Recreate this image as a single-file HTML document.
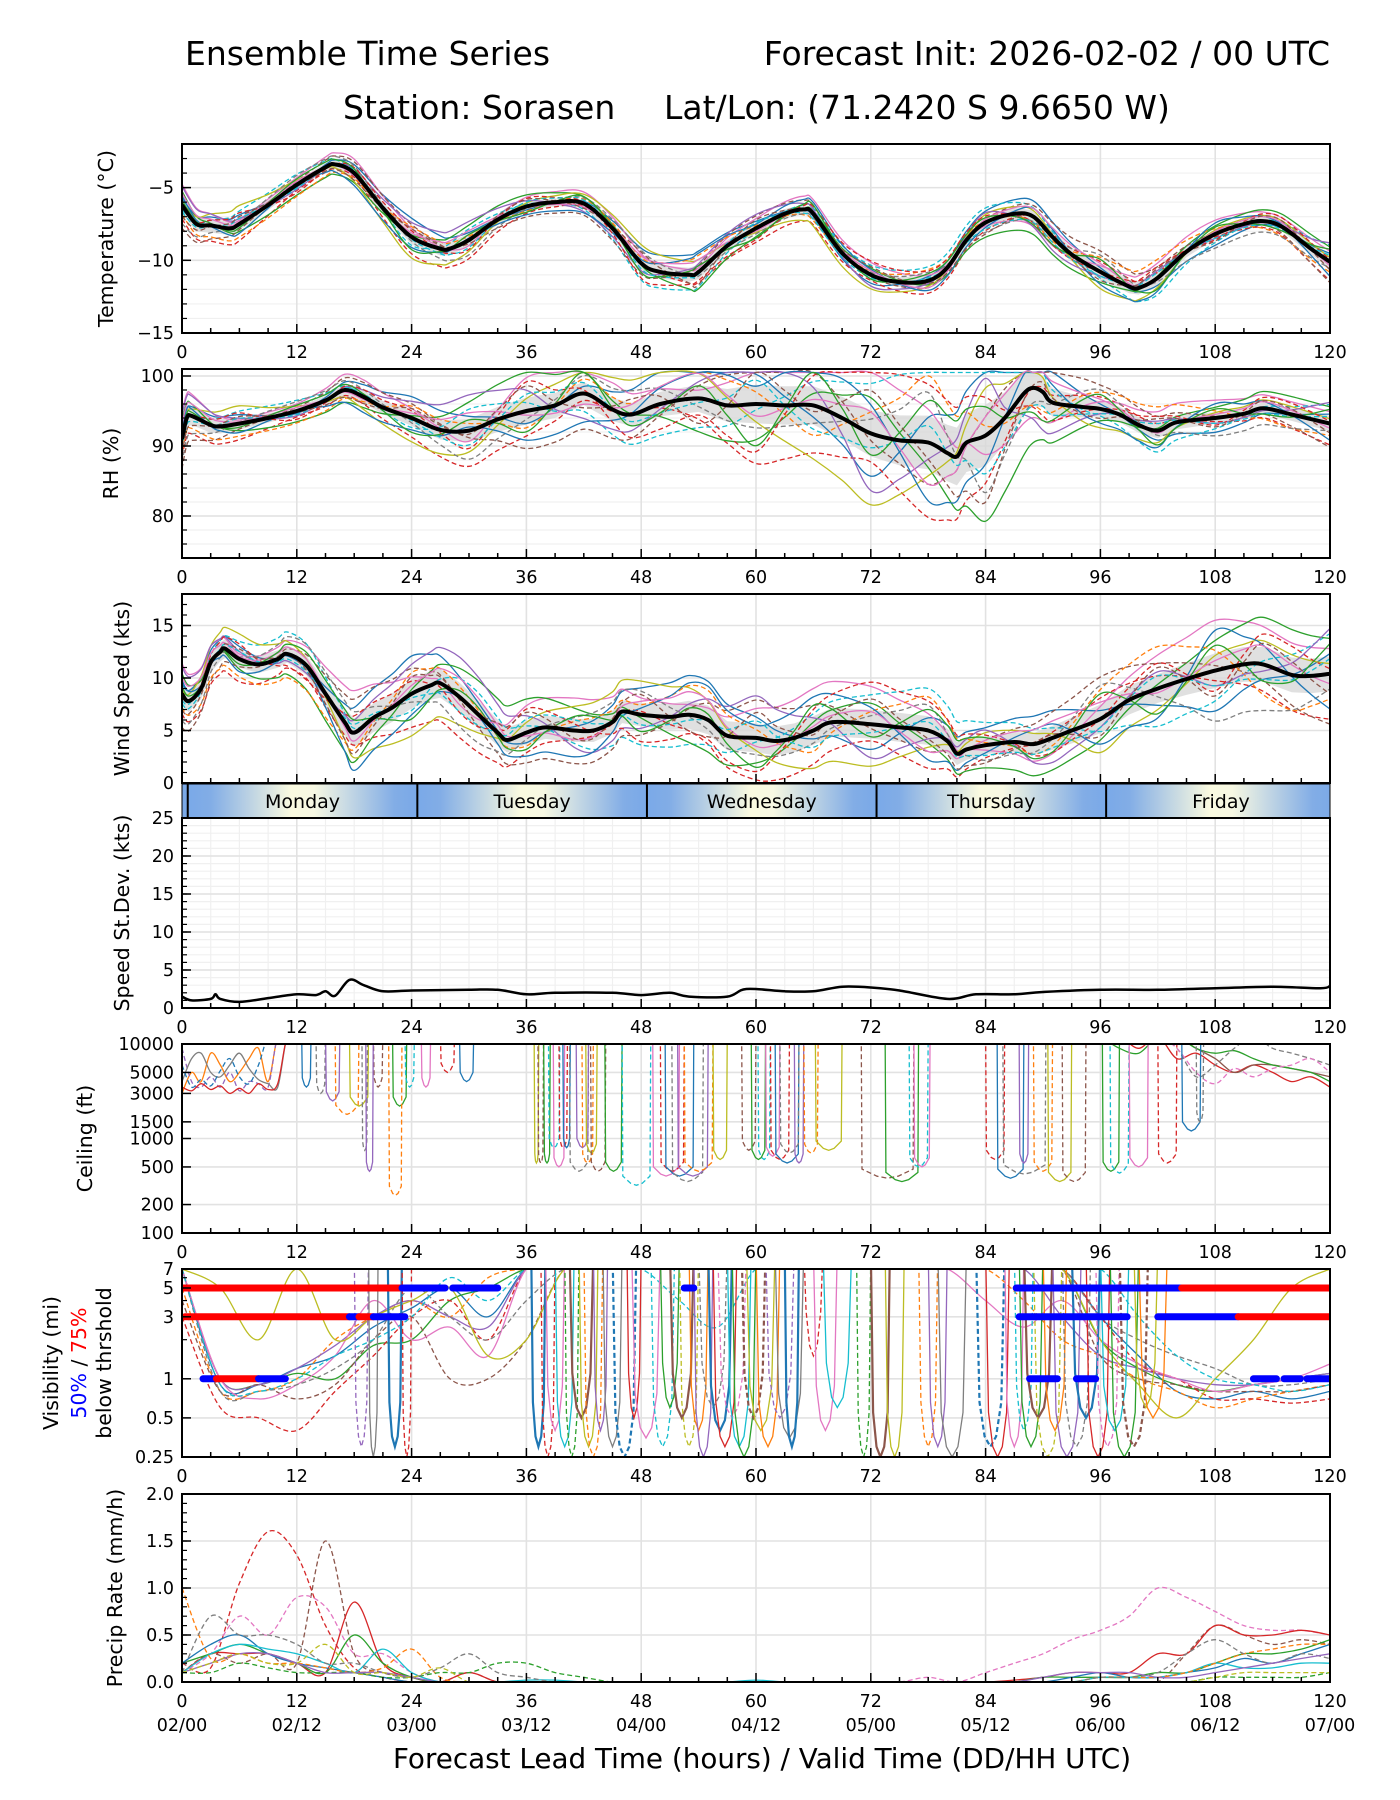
<!DOCTYPE html>
<html><head><meta charset="utf-8"><style>
html,body{margin:0;padding:0;background:#fff;}
svg{display:block;font-family:"DejaVu Sans","Liberation Sans",sans-serif;}
</style></head><body>
<svg id="chart" xmlns="http://www.w3.org/2000/svg" width="1400" height="1800" viewBox="0 0 1400 1800">
<text x="185" y="65" font-size="33">Ensemble Time Series</text>
<text x="1330" y="65" font-size="33" text-anchor="end">Forecast Init: 2026-02-02 / 00 UTC</text>
<text x="343" y="119" font-size="33">Station: Sorasen</text>
<text x="664" y="119" font-size="33">Lat/Lon: (71.2420 S 9.6650 W)</text>
<text x="762" y="1768" font-size="27.8" text-anchor="middle">Forecast Lead Time (hours) / Valid Time (DD/HH UTC)</text>
<g id="root"></g>
</svg>
<script>
// ---------- data ----------
const tempHours=[0,1.5,3,5,6,9,12,15,16,18,21,24,27,28,30,33,36,39,42,45,48,50,53,54,57,60,63,65,66,69,72,75,78,80,82,84,87,89,91,93,96,99,100,102,105,108,111,113,115,118,120];
const tempMean=[-6.2,-7.5,-7.6,-7.8,-7.5,-6.2,-4.8,-3.6,-3.4,-4.0,-6.4,-8.4,-9.2,-9.2,-8.6,-7.2,-6.3,-6.0,-6.1,-7.8,-10.2,-10.8,-11.0,-10.8,-9.0,-7.8,-6.8,-6.5,-6.8,-9.5,-11.0,-11.5,-11.4,-10.5,-8.6,-7.4,-6.8,-7.0,-8.4,-9.6,-10.8,-11.8,-11.9,-11.2,-9.4,-8.2,-7.5,-7.3,-7.7,-9.2,-10.1];
const tempSpread=[1.0,0.8,0.5,0.6,0.9,0.8,0.5,0.5,0.8,0.9,0.6,0.6,0.6,0.6,0.7,0.8,0.9,0.8,0.6,0.5,0.9];
const rhHours=[0,0.5,1,3,4,6,9,12,15,17,19,21,24,27,30,33,36,39,42,45,47,50,54,57,60,63,66,69,72,75,78,80,81,82,84,86,88,89,90,91,94,96,98,100,102,104,108,111,113,116,120];
const rhMean=[91,94,94.3,93,92.8,93.2,94,95,96.5,98,97,95.5,94,92.3,92.2,93.8,95,95.8,97.5,95.2,94.5,96,96.8,95.8,96,95.8,95.8,94,91.8,90.8,90.5,89,88.5,90.5,91.5,94,97.5,98.3,97.7,96.2,95.6,95.3,94.5,93,92.2,93.4,94,94.6,95.4,94.5,93.2];
const rhSpread=[2.5,1.5,1,1.5,2,3,3.5,3,3,3.5,5,5,6,7,8,4,2,2,1.5,1.5,2];
const windHours=[0,0.7,2,3,4,4.5,6,8,10,11,13,15,17,18,20,22,24,26,27,29,31,33,34,36,38,41,43,45,46,48,51,53,55,57,60,62,64,66,68,72,75,78,80,81,82,84,87,89,91,93,96,99,102,105,108,111,113,116,118,120];
const windMean=[8.5,7.8,9,11.5,12.5,12.8,11.8,11.3,11.8,12.3,11.2,8.5,5.8,4.8,6.2,7.2,8.5,9.3,9.5,8.2,6.5,4.8,4.1,4.8,5.3,5.0,5.0,5.8,6.8,6.5,6.3,6.5,6.0,4.5,4.3,4.0,4.3,5.0,5.8,5.6,5.3,5.0,4.0,2.8,3.2,3.6,3.9,3.7,4.3,5.0,6.1,7.9,9.0,9.9,10.7,11.3,11.3,10.3,10.2,10.4];
const windSpread=[2,1.5,1.5,2.5,2.5,2.5,2,2,2,2.5,2.5,2.5,2.5,2.5,1.5,2.0,2.5,2.5,3,3,3];
const sdHours=[0,1,3,3.5,4,6,9,12,14,15,16,17.5,19,21,24,30,33,36,39,45,48,51,53,57,59,63,66,69,72,75,80,83,87,90,96,102,108,114,119,120];
const sdValues=[1.5,1.0,1.2,1.8,1.2,0.8,1.3,1.8,1.7,2.2,1.6,3.7,3.0,2.2,2.3,2.4,2.4,1.8,2.0,2.0,1.7,2.0,1.5,1.5,2.5,2.2,2.2,2.8,2.7,2.3,1.2,1.8,1.8,2.1,2.4,2.4,2.6,2.8,2.6,2.9];
const off0=[0.3,0.5,-0.2,0.6,0.9,0.4,-0.3,0.2,0.8,1.0,0.5,-0.2,-0.6,0.3,0.7,0.9,0.2,-0.4,-0.8,-0.2,0.4];
const off1=[-0.6,-0.9,-0.5,-0.3,-0.8,-1.0,-0.6,-0.2,0.1,-0.5,-1.0,-0.8,-0.4,-0.9,-0.5,0.1,0.5,0.3,-0.2,-0.6,-0.9];
const off2=[0.9,0.2,0.6,1.0,0.4,-0.3,0.8,1.0,0.5,0.2,0.7,1.0,0.9,0.4,-0.2,-0.6,0.3,0.8,1.0,0.7,0.5];
const off3=[-0.2,0.7,0.9,0.1,-0.4,0.6,0.2,-0.5,-0.9,-0.7,-0.1,0.4,0.7,1.0,0.9,0.4,-0.3,-0.9,-0.6,0.2,0.8];
const off4=[0.6,-0.4,-0.9,-0.7,0.1,0.8,1.0,0.6,-0.1,-0.8,-0.6,0.2,0.5,-0.3,-0.9,-1.0,-0.5,0.1,0.6,1.0,0.7];
const off5=[-1.0,-0.3,0.3,0.8,0.6,-0.2,-0.9,-1.0,-0.6,0.3,0.9,0.6,-0.1,-0.5,0.2,0.7,1.0,0.6,0.1,-0.4,-1.0];
const off6=[0.1,1.0,0.4,-0.6,-1.0,-0.6,0.3,0.8,1.0,0.6,-0.3,-0.9,-1.0,-0.4,0.5,0.3,-0.8,-0.5,0.3,0.5,0.2];
const off7=[-0.4,-0.7,-1.0,-0.4,0.5,0.2,-0.4,0.4,0.3,0.8,0.2,-0.5,0.3,0.8,0.1,-0.4,0.7,1.0,0.4,-0.8,-0.5];
const off8=[0.8,0.3,-0.4,0.3,0.7,1.0,0.5,-0.7,-0.4,0.4,1.0,0.3,-0.8,-0.2,0.6,-0.8,-0.2,0.4,-0.3,-0.1,0.9];
const off9=[-0.8,0.1,0.8,0.5,-0.2,-0.8,-0.2,0.5,0.7,-0.2,-0.4,-0.3,0.2,0.6,-0.6,-0.2,0.8,-0.2,-1.0,-0.9,-0.3];
const off10=[0.4,-0.5,0.1,-0.9,-0.5,0.1,-0.7,-0.8,0.2,0.9,0.3,0.8,0.4,-0.7,-0.3,0.6,-0.6,-0.7,0.8,0.3,-0.7];
const off11=[-0.1,0.6,-0.7,0.4,0.3,-0.5,0.7,0.1,-0.8,-0.4,-0.8,0.5,1.0,0.7,0.4,-0.5,0.0,0.6,-0.4,0.8,0.1];
const off12=[0.5,0.1,0.3,-0.2,0.2,0.5,-0.1,-0.3,0.4,0.6,-0.2,0.1,0.3,-0.5,0.2,0.5,0.4,-0.1,0.2,0.4,-0.2];
const off13=[-0.3,0.3,-0.3,0.2,-0.1,-0.4,0.4,0.3,-0.3,-0.1,0.4,-0.4,-0.2,0.2,-0.4,-0.3,-0.2,0.3,-0.3,-0.3,0.3];
const off14=[0.2,-0.2,0.5,0.3,-0.6,0.3,-0.5,0.6,-0.5,0.3,-0.7,0.6,-0.3,0.5,0.3,-0.6,0.6,-0.6,0.5,-0.5,0.6];
const off15=[-0.5,0.4,-0.1,-0.5,0.4,-0.1,0.6,-0.4,0.6,-0.6,0.6,-0.1,0.6,-0.2,-0.7,0.2,-0.4,0.5,-0.5,0.6,-0.4];
const offsets=[off0,off1,off2,off3,off4,off5,off6,off7,off8,off9,off10,off11,off12,off13,off14,off15];
const ceilEarlyHours=[0,1,2,3,4,5,6,7,8,9,10,11,12];
const ceilEarly0=[3000,5000,4000,8000,6000,4000,5000,7000,9000,4000,12000,12000,12000];
const ceilEarly1=[9000,4000,3500,4500,3500,5000,3200,4000,3800,3500,12000,12000,12000];
const ceilEarly2=[4000,7000,8000,5000,4500,6000,8000,5500,4200,3800,3500,12000,12000];
const ceilEarly3=[6000,3500,4200,3600,5200,7000,4500,3800,6000,12000,12000,12000,12000];
const ceilEarly4=[3500,3200,3800,3300,3600,3000,3400,3000,3800,3300,3800,12000,12000];
const ceilLateHours=[96,98,100,102,104,106,108,110,112,114,116,118,120];
const ceilLate0=[12000,12000,9000,12000,7000,8000,6000,5000,6000,5000,4000,4500,3500];
const ceilLate1=[12000,12000,12000,12000,12000,9000,7000,5000,6000,6000,5500,5000,4500];
const ceilLate2=[12000,9000,8000,12000,12000,9000,8000,8500,7000,6000,5500,5000,4000];
const ceilLate3=[12000,12000,12000,12000,9000,4500,6000,9000,12000,9000,8000,7000,6000];
const ceilLate4=[12000,12000,12000,12000,9000,5000,3800,5500,4500,5500,6000,7000,5000];
const ceilDropStart=[12.5,14,15,16,17.5,20,22,23.3,25,27,29,18.8,19.2,21.6,36.8,37.2,37.8,38.3,38.8,39.4,39.8,40.5,41.2,41.8,42.2,42.7,44.2,46,49.2,50,50.5,51.2,51.8,52.5,55.5,58.5,59.5,60.2,61,61.5,62,62.5,64,65,66.2,71,73.5,76,76.5,84,85.2,85.8,87.5,89,90.5,92,96.2,97,99,102,104.5,106];
const ceilDropEnd=[13.5,15,16.5,18.5,19.5,21,23.5,24.3,26,28.5,30.5,19.4,20,23,37.3,37.8,38.5,39.5,40,40.3,40.6,42.5,42.5,43,43.4,44.3,46,49,52,52.5,53.5,54.5,55,55.5,57,60,61,61.5,62.5,63.5,64.5,64.5,65,66.5,69,76.5,77,78,78.2,86,88,90.3,88.5,91,93,94.5,98,99,101,104,106.5,106.8];
const ceilDropMin=[3500,3000,2500,1800,2200,3500,2200,3500,3500,5000,4000,750,450,250,550,550,550,800,500,800,800,450,800,550,700,450,450,320,400,450,400,350,400,450,600,750,600,600,650,600,550,700,550,700,750,380,350,500,500,600,380,420,550,450,350,350,450,430,500,550,1200,1500];
const visHours=[0,4,8,12,16,20,24,28,32,36,40,44,48,52,56,60,64,68,72,76,80,84,88,92,96,100,104,108,112,116,120];
const vis0=[7,0.9,0.9,1.2,1.5,2.5,3.5,5,3,7,7,7,7,7,7,7,7,7,7,7,7,7,7,7,3,1.5,0.8,0.7,0.8,0.7,0.8];
const vis1=[5,0.8,0.8,1.0,2,3,4,3,6,7,7,7,7,7,7,7,7,7,7,7,7,7,4,2,1.5,1,0.8,0.6,0.7,0.8,0.9];
const vis2=[7,1.0,0.9,1.1,1.0,1.8,2,4,5,7,7,7,7,7,7,7,7,7,7,7,7,7,7,7,2,1.2,0.9,0.8,0.9,1,1.1];
const vis3=[3,0.6,0.5,0.4,0.8,1.5,3,4,2,7,7,7,7,7,7,7,7,7,7,7,7,7,7,7,3,1.3,1,0.7,0.7,0.65,0.7];
const vis4=[7,1.0,0.9,1.2,1.8,3,4,3,2.5,7,7,7,7,7,7,7,7,7,7,7,7,7,7,3,1.5,1.2,1,0.9,0.9,1,1.1];
const vis5=[4,0.8,0.9,0.7,0.9,2,3,1,1,2,7,7,7,7,7,7,7,7,7,7,7,7,7,7,1.5,1,0.9,0.8,0.8,0.8,0.9];
const vis6=[7,1.0,0.7,0.9,1.5,4,2,2.5,1.5,7,7,7,7,7,7,7,7,7,7,7,7,4,2.5,4,2,1.3,1,0.8,0.9,1,1.3];
const vis7=[7,0.8,0.8,0.9,1.2,2,5,3,2,4,7,7,7,7,7,7,7,7,7,7,7,7,7,7,3,2,1.5,1.2,0.9,0.9,1.0];
const vis8=[7,5,2,7,2,3,4,5,1.5,2,7,7,7,7,7,7,7,7,7,7,7,7,7,7,2,0.9,0.5,1,2,5,7];
const vis9=[7,0.9,0.8,1.0,1.5,2,3,6,4,7,7,7,7,4,2.5,7,7,7,7,7,7,7,7,7,7,3,1.5,1,0.9,0.8,0.9];
const visMembers=[vis0,vis1,vis2,vis3,vis4,vis5,vis6,vis7,vis8,vis9];
const visDropStart=[36.5,37.5,38,39,40,40.5,41.5,42,43,44,45,46.5,47,49,50,51,52,53,53.5,54,55,55.5,56,57,57.5,58.5,59,60,61,62,63,65,66,67,70.5,72,73.5,77,78,79,83,84,86,87,87.5,88,89,90,91,92,93,94.5,95.5,96,97,98,99.5,100,18,19.5,21.5,23];
const visDropEnd=[38,39,40,41,41.5,43,43.5,44,44.5,46,47.5,48,50,51.5,52,53.5,54,55,55.5,57,57.5,58,59,59.5,60,61,62,62.5,64,65,64.5,67,68.5,70,72,74,75.5,79,80,82,86,86.5,88,89,90,91,92,92.5,94,95,96,97,98,99,100,101,102,103,19.5,20.5,23,24];
const visDropMin=[0.3,0.25,0.4,0.3,0.25,0.5,0.3,0.25,0.4,0.3,0.25,0.5,0.35,0.3,0.6,0.5,0.3,0.4,0.25,0.6,0.4,0.3,0.5,0.3,0.25,0.5,0.4,0.3,0.5,0.35,0.3,1.5,0.4,0.6,0.25,0.25,0.25,0.3,0.3,0.25,0.3,0.25,0.3,0.4,0.3,0.5,0.25,0.4,0.25,0.3,0.5,0.25,0.3,0.4,0.25,0.3,0.6,0.5,0.3,0.25,0.3,0.25];
const thrLevel=[5,5,5,5,5,5,3,3,3,3,3,3,3,1,1,1,1,1,1,1,1];
const thrStart=[0,23,28.3,52.5,87.2,104.5,0.3,17.5,18.5,20,87.5,102,110.4,2.2,3.6,8,88.6,93.5,112,115.2,117.6];
const thrEnd=[23,27.5,33,53.5,104.5,120,17.5,18.5,20,23.3,98.8,110.4,120,3.6,8,10.8,91.5,95.5,114.4,116.9,120];
const thrColor=['red','blue','blue','blue','blue','red','red','blue','red','blue','blue','blue','red','blue','red','blue','blue','blue','blue','blue','blue'];
const precipHours=[0,3,6,9,12,15,18,21,24,27,30,33,36,39,42,45,48,51,54,57,60,63,66,69,72,75,78,81,84,87,90,93,96,99,102,105,108,111,114,117,120];
const pr0=[0.2,0.15,1.05,1.6,1.35,0.6,0.15,0.05,0,0,0,0,0,0,0,0,0,0,0,0,0,0,0,0,0,0,0,0,0,0,0,0,0,0,0,0,0,0,0,0,0];
const pr1=[0.1,0.3,0.2,0.3,0.2,1.5,0.3,0.1,0.05,0,0.1,0,0,0,0,0,0,0,0,0,0,0,0,0,0,0,0,0,0,0,0,0,0,0,0,0.3,0.6,0.5,0.4,0.45,0.4];
const pr2=[0.1,0.3,0.7,0.5,0.9,0.8,0.3,0.3,0.1,0,0,0,0,0,0,0,0,0,0,0,0,0,0,0,0,0,0.05,0,0.1,0.2,0.3,0.45,0.55,0.7,1.0,0.9,0.75,0.6,0.55,0.55,0.5];
const pr3=[0.1,0.3,0.3,0.3,0.2,0.1,0.85,0.2,0.05,0,0.1,0,0,0,0,0,0,0,0,0,0,0,0,0,0,0,0,0,0,0.02,0.05,0.1,0.1,0.1,0.3,0.3,0.6,0.5,0.5,0.55,0.5];
const pr4=[0.2,0.3,0.4,0.3,0.2,0.1,0.5,0.2,0.05,0,0,0,0,0,0,0,0,0,0,0,0,0,0,0,0,0,0,0,0,0,0.05,0.05,0.05,0.05,0.1,0.1,0.2,0.3,0.3,0.35,0.45];
const pr5=[0.2,0.4,0.5,0.3,0.2,0.15,0.1,0.05,0,0,0,0,0,0,0,0,0,0,0,0,0,0,0,0,0,0,0,0,0,0,0,0.05,0.1,0.05,0.05,0.1,0.15,0.25,0.2,0.3,0.4];
const pr6=[0.1,0.3,0.4,0.35,0.3,0.2,0.1,0.35,0.1,0,0,0,0.02,0.02,0,0,0,0,0,0,0.02,0,0,0,0,0,0,0,0,0,0,0,0.05,0.05,0.05,0.1,0.2,0.15,0.15,0.2,0.2];
const pr7=[1.0,0.25,0.3,0.2,0.2,0.15,0.1,0.15,0.35,0.05,0,0,0,0,0,0,0,0,0,0,0,0,0,0,0,0,0,0,0,0,0,0,0.05,0.05,0.05,0.1,0.2,0.3,0.35,0.4,0.4];
const pr8=[0.1,0.1,0.2,0.15,0.1,0.1,0.1,0.05,0.05,0.1,0.1,0.2,0.2,0.1,0.05,0,0,0,0,0,0,0,0,0,0,0,0,0,0,0,0,0,0,0,0,0,0.05,0.05,0.05,0.05,0.1];
const pr9=[0.1,0.7,0.5,0.5,0.4,0.2,0.2,0.1,0.05,0.15,0.3,0.1,0.05,0,0,0,0,0,0,0,0,0,0,0,0,0,0,0,0,0,0,0,0.05,0.05,0.1,0.3,0.45,0.3,0.2,0.3,0.25];
const pr10=[0.1,0.2,0.3,0.3,0.2,0.1,0.1,0.1,0.05,0,0,0,0,0,0,0,0,0,0,0,0,0,0,0,0,0,0,0,0,0,0.05,0.1,0.1,0.1,0.05,0.05,0.1,0.15,0.2,0.25,0.3];
const pr11=[0.1,0.2,0.3,0.2,0.2,0.4,0.1,0.1,0.05,0.15,0,0,0,0,0,0,0,0,0,0,0,0,0,0,0,0,0,0,0,0,0,0,0,0,0,0,0.05,0.1,0.1,0.1,0.1];
const precipMembers=[pr0,pr1,pr2,pr3,pr4,pr5,pr6,pr7,pr8,pr9,pr10,pr11];
const precipColors=[3,5,6,3,2,0,9,1,2,7,4,8];
const precipDash=[1,1,1,0,0,0,0,1,1,1,0,1];
const dayNames=['Monday','Tuesday','Wednesday','Thursday','Friday'];
const xTickHours=[0,12,24,36,48,60,72,84,96,108,120];
const xDateLabels=['02/00','02/12','03/00','03/12','04/00','04/12','05/00','05/12','06/00','06/12','07/00'];

// ---------- helpers ----------
const NS='http://www.w3.org/2000/svg';
const root=document.getElementById('root');
const COLORS=['#1f77b4','#ff7f0e','#2ca02c','#d62728','#9467bd','#8c564b','#e377c2','#7f7f7f','#bcbd22','#17becf'];
const X0=182,X1=1330;
const xs=h=>X0+h*(X1-X0)/120;
function mk(tag,attrs,parent){const e=document.createElementNS(NS,tag);for(const k in attrs)e.setAttribute(k,attrs[k]);(parent||root).appendChild(e);return e;}
function ys(p,v){
  if(p.log){const lv=Math.log(Math.max(v,1e-6));return p.b-(lv-Math.log(p.min))/(Math.log(p.max)-Math.log(p.min))*(p.b-p.t);}
  return p.b-(v-p.min)/(p.max-p.min)*(p.b-p.t);
}
function interp(hs,vs,h){
  if(h<=hs[0])return vs[0]; if(h>=hs[hs.length-1])return vs[vs.length-1];
  for(let i=1;i<hs.length;i++){if(h<=hs[i]){const f=(h-hs[i-1])/(hs[i]-hs[i-1]);return vs[i-1]+f*(vs[i]-vs[i-1]);}}
}
const grid6=[];for(let i=0;i<=20;i++)grid6.push(i*6);
function smoothPath(pts){
  if(pts.length<2)return '';
  let d='M'+pts[0][0].toFixed(1)+','+pts[0][1].toFixed(1);
  for(let i=0;i<pts.length-1;i++){
    const p0=pts[Math.max(0,i-1)],p1=pts[i],p2=pts[i+1],p3=pts[Math.min(pts.length-1,i+2)];
    const c1x=p1[0]+(p2[0]-p0[0])/6,c1y=p1[1]+(p2[1]-p0[1])/6,c2x=p2[0]-(p3[0]-p1[0])/6,c2y=p2[1]-(p3[1]-p1[1])/6;
    d+='C'+c1x.toFixed(1)+','+c1y.toFixed(1)+' '+c2x.toFixed(1)+','+c2y.toFixed(1)+' '+p2[0].toFixed(1)+','+p2[1].toFixed(1);
  }
  return d;
}
function linePath(pts){return pts.map((p,i)=>(i?'L':'M')+p[0].toFixed(1)+','+p[1].toFixed(1)).join('');}
const defs=mk('defs',{});
let clipId=0;
function panelGroup(p,name){
  const id='clip'+(clipId++);
  const cp=mk('clipPath',{id:id},defs);
  mk('rect',{x:X0,y:p.t,width:X1-X0,height:p.b-p.t},cp);
  const g=mk('g',{'clip-path':'url(#'+id+')'});
  
  
  return g;
}
function drawGrid(p,g,majors,minors,xMinor){
  if(xMinor){for(let h=3;h<120;h+=3){if(h%12)mk('line',{x1:xs(h),x2:xs(h),y1:p.t,y2:p.b,stroke:'#f0f0f0','stroke-width':1.2},g);}}
  minors.forEach(v=>{mk('line',{x1:X0,x2:X1,y1:ys(p,v),y2:ys(p,v),stroke:'#f0f0f0','stroke-width':1.2},g);});
  majors.forEach(v=>{mk('line',{x1:X0,x2:X1,y1:ys(p,v),y2:ys(p,v),stroke:'#e2e2e2','stroke-width':1.6},g);});
  xTickHours.forEach(h=>{mk('line',{x1:xs(h),x2:xs(h),y1:p.t,y2:p.b,stroke:'#e2e2e2','stroke-width':1.6},g);});
}
function drawAxes(p,name,yTicks,yLabels,yMinorTicks,showX){
  const fr=mk('rect',{x:X0,y:p.t,width:X1-X0,height:p.b-p.t,fill:'none',stroke:'#000','stroke-width':2});
  
  
  for(let h=0;h<=120;h+=3){const L=(h%12===0)?9:5;mk('line',{x1:xs(h),x2:xs(h),y1:p.b,y2:p.b-L,stroke:'#000','stroke-width':1.5});}
  yTicks.forEach((v,i)=>{
    mk('line',{x1:X0,x2:X0+9,y1:ys(p,v),y2:ys(p,v),stroke:'#000','stroke-width':1.5});
    const t=mk('text',{x:X0-8,y:ys(p,v)+6,'font-size':17.5,'text-anchor':'end'});t.textContent=yLabels[i];
    
    
  });
  (yMinorTicks||[]).forEach(v=>{mk('line',{x1:X0,x2:X0+5,y1:ys(p,v),y2:ys(p,v),stroke:'#000','stroke-width':1.2});});
  if(showX!==false){
    xTickHours.forEach(h=>{const t=mk('text',{x:xs(h),y:p.b+25,'font-size':17.5,'text-anchor':'middle'});t.textContent=String(h);
      
      });
  }
}
function yTitle(lines,cx,cy,name){
  lines.forEach(l=>{
    const t=mk('text',{x:l.x,y:cy,'font-size':20.5,'text-anchor':'middle','dominant-baseline':'central',transform:'rotate(-90 '+l.x+' '+cy+')'});
    if(l.parts){l.parts.forEach(pt=>{const s=mk('tspan',{fill:pt.c},t);s.textContent=pt.s;});}else t.textContent=l.s;
    
    
  });
}
function drawEnsemble(p,g,name,hours,mean,spread,mult,clampMax){
  const up=[],dn=[];
  hours.forEach(h=>{const m=interp(hours,mean,h),s=interp(grid6,spread,h)*0.55;let a=m+s;if(clampMax!==undefined)a=Math.min(a,clampMax);up.push([xs(h),ys(p,a)]);dn.push([xs(h),ys(p,m-s)]);});
  const band=mk('path',{d:linePath(up)+dn.reverse().map(q=>'L'+q[0].toFixed(1)+','+q[1].toFixed(1)).join('')+'Z',fill:'#d8d8d8','fill-opacity':0.8},g);
  
  
  offsets.forEach((off,k)=>{
    const pts=hours.map(h=>{let v=interp(hours,mean,h)+interp(grid6,spread,h)*interp(grid6,off,h)*mult;if(clampMax!==undefined)v=Math.min(v,clampMax);return [xs(h),ys(p,v)];});
    const ln=mk('path',{d:smoothPath(pts),fill:'none',stroke:COLORS[(k*3)%10],'stroke-width':1.3,'stroke-dasharray':(k%2)?'5,3':'none'},g);
    
    
  });
  const pts=hours.map((h,i)=>[xs(h),ys(p,mean[i])]);
  const ml=mk('path',{d:smoothPath(pts),fill:'none',stroke:'#000','stroke-width':4,'stroke-linejoin':'round'},g);
  
  
}
function range(a,b,s){const r=[];for(let v=a;v<=b+1e-9;v+=s)r.push(+v.toFixed(3));return r;}

// ---------- panel 1 ----------
const P1={t:144,b:333,min:-15,max:-2};
const g1=panelGroup(P1,'temperature');
drawGrid(P1,g1,[-15,-10,-5],range(-14,-2,1),false);
drawEnsemble(P1,g1,'temperature',tempHours,tempMean,tempSpread,1.6);
drawAxes(P1,'temperature',[-15,-10,-5],['\u221215','\u221210','\u22125'],range(-14,-3,1));
yTitle([{x:106,s:'Temperature (\u00b0C)'}],0,(P1.t+P1.b)/2,'temperature-y-title');

// ---------- panel 2 ----------
const P2={t:369,b:558,min:74,max:101};
const g2=panelGroup(P2,'rh');
drawGrid(P2,g2,[80,90,100],range(76,100,2),false);
drawEnsemble(P2,g2,'rh',rhHours,rhMean,rhSpread,1.7,100.5);
drawAxes(P2,'rh',[80,90,100],['80','90','100'],range(76,98,2));
yTitle([{x:111,s:'RH (%)'}],0,(P2.t+P2.b)/2,'rh-y-title');

// ---------- panel 3 ----------
const P3={t:594,b:783,min:0,max:18};
const g3=panelGroup(P3,'wind');
drawGrid(P3,g3,[0,5,10,15],[],false);
drawEnsemble(P3,g3,'wind',windHours,windMean,windSpread,1.6);
drawAxes(P3,'wind',[0,5,10,15],['0','5','10','15'],range(1,17,1),false);
yTitle([{x:122,s:'Wind Speed (kts)'}],0,(P3.t+P3.b)/2,'wind-y-title');

// ---------- day band ----------
const bandT=784,bandB=818;
const bandClip=mk('clipPath',{id:'bandclip'},defs);
mk('rect',{x:X0,y:bandT,width:X1-X0,height:bandB-bandT},bandClip);
const grad=mk('linearGradient',{id:'daygrad',x1:0,y1:0,x2:1,y2:0},defs);
[['0','#7aa9e8'],['0.1','#82ade6'],['0.45','#fafae0'],['0.55','#f7f8e2'],['0.9','#82ade6'],['1','#7aa9e8']].forEach(s=>mk('stop',{offset:s[0],'stop-color':s[1]},grad));
const bandG=mk('g',{'clip-path':'url(#bandclip)'});


mk('rect',{x:X0,y:bandT,width:X1-X0,height:bandB-bandT,fill:'#7aa9e8'},bandG);
for(let d=-1;d<5;d++){
  const s=d*24+0.6;
  const r=mk('rect',{x:xs(s),y:bandT,width:xs(24)-xs(0),height:bandB-bandT,fill:'url(#daygrad)'},bandG);
  
  
  if(d>=0){
    mk('line',{x1:xs(s),x2:xs(s),y1:bandT,y2:bandB,stroke:'#000','stroke-width':2},bandG);
    const t=mk('text',{x:xs(s+12),y:bandT+24,'font-size':19,'text-anchor':'middle'},bandG);t.textContent=dayNames[d];
    
    
  }
}
mk('rect',{x:X0,y:bandT,width:X1-X0,height:bandB-bandT,fill:'none',stroke:'#000','stroke-width':1});

// ---------- panel 4 ----------
const P4={t:818,b:1008,min:0,max:25};
const g4=panelGroup(P4,'stdev');
drawGrid(P4,g4,[0,5,10,15,20,25],range(1,24,1),true);
const sdl=mk('path',{d:smoothPath(sdHours.map((h,i)=>[xs(h),ys(P4,sdValues[i])])),fill:'none',stroke:'#000','stroke-width':2.5},g4);


drawAxes(P4,'stdev',[0,5,10,15,20,25],['0','5','10','15','20','25'],range(1,24,1));
yTitle([{x:122,s:'Speed St.Dev. (kts)'}],0,(P4.t+P4.b)/2,'stdev-y-title');

// ---------- panel 5 ----------
const P5={t:1044,b:1233,min:100,max:10000,log:true};
const g5=panelGroup(P5,'ceiling');
drawGrid(P5,g5,[200,500,1000,1500,3000,5000,10000],[],false);
[ceilEarly0,ceilEarly1,ceilEarly2,ceilEarly3,ceilEarly4].forEach((arr,k)=>{
  const l=mk('path',{d:smoothPath(ceilEarlyHours.map((h,i)=>[xs(h),ys(P5,arr[i])])),fill:'none',stroke:COLORS[(k*3+1)%10],'stroke-width':1.3,'stroke-dasharray':k%2?'5,3':'none'},g5);
  
  
});
[ceilLate0,ceilLate1,ceilLate2,ceilLate3,ceilLate4].forEach((arr,k)=>{
  const l=mk('path',{d:smoothPath(ceilLateHours.map((h,i)=>[xs(h),ys(P5,arr[i])])),fill:'none',stroke:[COLORS[3],COLORS[5],COLORS[2],COLORS[7],COLORS[6]][k],'stroke-width':1.3,'stroke-dasharray':k>=3?'5,3':'none'},g5);
  
  
});
ceilDropStart.forEach((s,i)=>{
  const e=ceilDropEnd[i],m=ceilDropMin[i],w=e-s;
  const pts=[[xs(s),ys(P5,14000)],[xs(s+0.08),ys(P5,m*1.25)],[xs(s+w*0.3),ys(P5,m*1.05)],[xs(s+w*0.5),ys(P5,m)],[xs(e-w*0.3),ys(P5,m*1.05)],[xs(e-0.08),ys(P5,m*1.25)],[xs(e),ys(P5,14000)]];
  const l=mk('path',{d:linePath(pts),fill:'none',stroke:COLORS[(i*7)%10],'stroke-width':1.3,'stroke-dasharray':i%2?'5,3':'none'},g5);
  
  
});
drawAxes(P5,'ceiling',[100,200,500,1000,1500,3000,5000,10000],['100','200','500','1000','1500','3000','5000','10000'],[]);
yTitle([{x:85,s:'Ceiling (ft)'}],0,(P5.t+P5.b)/2,'ceiling-y-title');

// ---------- panel 6 ----------
const P6={t:1269,b:1457,min:0.25,max:7,log:true};
const g6=panelGroup(P6,'visibility');
drawGrid(P6,g6,[0.5,1,3,5],[],false);
visMembers.forEach((arr,k)=>{
  const l=mk('path',{d:smoothPath(visHours.map((h,i)=>[xs(h),ys(P6,arr[i])])),fill:'none',stroke:COLORS[k],'stroke-width':1.3,'stroke-dasharray':k%2?'5,3':'none'},g6);
  
  
});
visDropStart.forEach((s,i)=>{
  const e=visDropEnd[i],m=visDropMin[i],w=e-s;
  const pts=[[xs(s),ys(P6,10)],[xs(s+w*0.12),ys(P6,m*2.2)],[xs(s+w*0.3),ys(P6,m*1.2)],[xs(s+w*0.5),ys(P6,m)],[xs(e-w*0.3),ys(P6,m*1.2)],[xs(e-w*0.12),ys(P6,m*2.2)],[xs(e),ys(P6,10)]];
  const l=mk('path',{d:linePath(pts),fill:'none',stroke:COLORS[(i*3)%10],'stroke-width':(i%5===0)?2.2:1.3,'stroke-dasharray':i%3===1?'5,3':'none'},g6);
  
  
});
thrLevel.forEach((lv,i)=>{
  const l=mk('line',{x1:xs(thrStart[i]),x2:xs(thrEnd[i]),y1:ys(P6,lv),y2:ys(P6,lv),stroke:thrColor[i]==='red'?'#ff0000':'#0000ff','stroke-width':7,'stroke-linecap':'round'},g6);
  
  
});
drawAxes(P6,'visibility',[0.25,0.5,1,3,5,7],['0.25','0.5','1','3','5','7'],[2,4,6]);
yTitle([{x:51,s:'Visibility (mi)'},{x:79,parts:[{s:'50%',c:'#0000ff'},{s:' / ',c:'#000'},{s:'75%',c:'#ff0000'}]},{x:104,s:'below thrshold'}],0,(P6.t+P6.b)/2,'visibility-y-title');

// ---------- panel 7 ----------
const P7={t:1494,b:1682,min:0,max:2};
const g7=panelGroup(P7,'precip');
drawGrid(P7,g7,[0,0.5,1,1.5,2],[],false);
precipMembers.forEach((arr,k)=>{
  const l=mk('path',{d:smoothPath(precipHours.map((h,i)=>[xs(h),ys(P7,arr[i])])),fill:'none',stroke:COLORS[precipColors[k]],'stroke-width':1.3,'stroke-dasharray':precipDash[k]?'5,3':'none'},g7);
  
  
});
drawAxes(P7,'precip',[0,0.5,1,1.5,2],['0.0','0.5','1.0','1.5','2.0'],range(0.1,1.9,0.1));
yTitle([{x:115,s:'Precip Rate (mm/h)'}],0,(P7.t+P7.b)/2,'precip-y-title');
xTickHours.forEach((h,i)=>{const t=mk('text',{x:xs(h),y:P7.b+49,'font-size':17.5,'text-anchor':'middle'});t.textContent=xDateLabels[i];
  
  });
</script>
</body></html>
